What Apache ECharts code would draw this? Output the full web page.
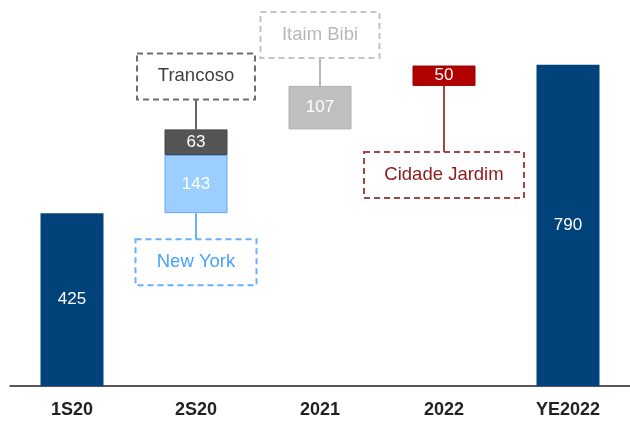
<!DOCTYPE html>
<html><head><meta charset="utf-8">
<script src="https://cdn.jsdelivr.net/npm/echarts@6/dist/echarts.min.js"></script>
<style>html,body{margin:0;padding:0;background:#fff}#c{width:630px;height:423px}</style>
</head><body><div id="c"></div>
<script>
const categories = ['1S20', '2S20', '2021', '2022', 'YE2022'];
const totals = [425, null, null, null, 790];
const newYork = [null, 143, null, null, null];
const trancoso = [null, 63, null, null, null];
const itaimBibi = [null, null, 107, null, null];
const cidadeJardim = [null, null, null, 50, null];
const baseOffsets = [null, 425, 631, 738, null];

const chart = echarts.init(document.getElementById('c'));
const valLabel = {show: true, position: 'inside', color: '#fff', fontSize: 17, fontFamily: 'Liberation Sans'};
const option = {
  animation: false,
  grid: {left: 10, right: 0, top: 20, bottom: 37},
  xAxis: {type: 'category', data: categories,
    axisLine: {lineStyle: {color: '#222', width: 1.5}}, axisTick: {show: false},
    axisLabel: {color: '#222', fontSize: 18, fontWeight: 'bold', fontFamily: 'Liberation Sans', margin: 15}},
  yAxis: {type: 'value', min: 0, max: 900, show: false, splitLine: {show: false}},
  series: [
    {type: 'bar', stack: 'w', data: baseOffsets, barWidth: 63, itemStyle: {color: 'transparent'}, silent: true},
    {type: 'bar', stack: 'w', data: totals, itemStyle: {color: '#00427a'}, label: valLabel},
    {type: 'bar', stack: 'w', data: newYork, itemStyle: {color: '#9ccfff', borderColor: '#5fa8f5', borderWidth: 1}, label: valLabel},
    {type: 'bar', stack: 'w', data: trancoso, itemStyle: {color: '#555555', borderColor: '#444', borderWidth: 1}, label: valLabel},
    {type: 'bar', stack: 'w', data: itaimBibi, itemStyle: {color: '#bfbfbf', borderColor: '#b0b0b0', borderWidth: 1}, label: valLabel},
    {type: 'bar', stack: 'w', data: cidadeJardim, itemStyle: {color: '#b00000', borderColor: '#990000', borderWidth: 1}, label: valLabel}
  ]
};
chart.setOption(option);

const annotations = [
  {name: 'Trancoso', cat: 1, arr: trancoso, below: [newYork], side: 'top', gap: 30, w: 118, h: 46, text: '#404040', border: '#6e6e6e', line: '#666'},
  {name: 'New York', cat: 1, arr: newYork, below: [], side: 'bottom', gap: 26, w: 121, h: 46, text: '#4aa0ff', border: '#6aafff', line: '#6aafff'},
  {name: 'Itaim Bibi', cat: 2, arr: itaimBibi, below: [], side: 'top', gap: 28, w: 119, h: 46, text: '#b8b8b8', border: '#c4c4c4', line: '#b8b8b8'},
  {name: 'Cidade Jardim', cat: 3, arr: cidadeJardim, below: [], side: 'bottom', gap: 66, w: 160, h: 46, text: '#8b1a1a', border: '#a04848', line: '#a04848'}
];
const graphics = [];
annotations.forEach(a => {
  let base = baseOffsets[a.cat];
  a.below.forEach(arr => { base += arr[a.cat]; });
  const val = a.arr[a.cat];
  const x = chart.convertToPixel({xAxisIndex: 0}, categories[a.cat]);
  const yTop = chart.convertToPixel({yAxisIndex: 0}, base + val);
  const yBot = chart.convertToPixel({yAxisIndex: 0}, base);
  let y1, y2, boxY;
  if (a.side === 'top') { y1 = yTop; y2 = yTop - a.gap; boxY = y2 - a.h; }
  else { y1 = yBot; y2 = yBot + a.gap; boxY = y2; }
  graphics.push({type: 'line', shape: {x1: x, y1: y1, x2: x, y2: y2}, style: {stroke: a.line, lineWidth: 2}});
  graphics.push({type: 'rect', shape: {x: x - a.w / 2, y: boxY, width: a.w, height: a.h},
    style: {fill: '#fff', stroke: a.border, lineWidth: 2, lineDash: [6, 4]}});
  graphics.push({type: 'text', x: x, y: boxY + a.h / 2,
    style: {text: a.name, fill: a.text, fontSize: 18.5, fontFamily: 'Liberation Sans', align: 'center', verticalAlign: 'middle'}});
});
chart.setOption({graphic: graphics});
</script></body></html>
